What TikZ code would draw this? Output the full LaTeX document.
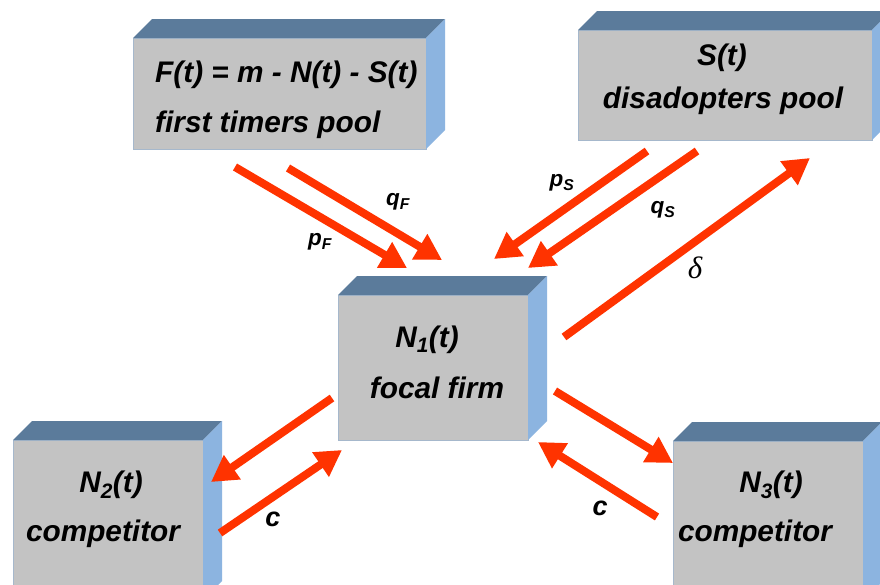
\documentclass[tikz,border=0pt]{standalone}
\usepackage{fontspec}
\setmainfont{Liberation Sans}
\newfontfamily\greekserif{Liberation Serif}
\usetikzlibrary{arrows.meta}
\definecolor{arrowred}{HTML}{FF3300}
\definecolor{boxfront}{HTML}{C3C3C3}
\definecolor{boxtop}{HTML}{5B7B9B}
\definecolor{boxside}{HTML}{8CB4E0}
\definecolor{boxedge}{HTML}{A6B8CC}
\begin{document}
\begin{tikzpicture}[x=1pt,y=-1pt,
  box/.style={draw=boxedge, line width=0.8pt, fill=boxfront, inner sep=0pt, outer sep=0pt},
  topface/.style={fill=boxtop},
  sideface/.style={fill=boxside},
  lbl/.style={font=\fontsize{29.8}{34}\selectfont\bfseries\itshape, inner sep=0pt},
  small/.style={font=\fontsize{22.5}{26}\selectfont\bfseries\itshape, inner sep=0pt},
  clbl/.style={font=\fontsize{27}{30}\selectfont\bfseries\itshape, inner sep=0pt},
  flow/.style={draw=arrowred, line width=8pt, -{Triangle[length=26pt,width=28pt]}}]
\useasboundingbox (0,0) rectangle (880,584);
\clip (0,0) rectangle (880,584);
\fill[white] (0,0) rectangle (880,584);

% boxes (front faces)
\node[box, minimum width=293pt, minimum height=111pt] (F) at (279.5,93.5) {};
\node[box, minimum width=294pt, minimum height=110pt] (S) at (725,85) {};
\node[box, minimum width=190pt, minimum height=145pt] (N1) at (433,367.5) {};
\node[box, minimum width=190pt, minimum height=160pt] (N2) at (108,520) {};
\node[box, minimum width=190pt, minimum height=160pt] (N3) at (768,521) {};

% top and side faces
\foreach \n in {F,S,N1,N2,N3}{
  \fill[topface] (\n.north west) -- ([shift={(19,-19)}]\n.north west)
     -- ([shift={(19,-19)}]\n.north east) -- (\n.north east) -- cycle;
  \fill[sideface] (\n.north east) -- ([shift={(19,-19)}]\n.north east)
     -- ([shift={(19,-19)}]\n.south east) -- (\n.south east) -- cycle;
}

% box texts
\node[lbl, anchor=base west] (Ft1) at (155,82) {F(t) = m - N(t) - S(t)};
\node[lbl, anchor=base west] (Ft2) at (155,132) {first timers pool};
\node[lbl, anchor=base] (St1) at (722,65) {S(t)};
\node[lbl, anchor=base] (St2) at (723,108) {disadopters pool};
\node[lbl, anchor=base] (N1t1) at (427,347) {N\textsubscript{1}(t)};
\node[lbl, anchor=base] (N1t2) at (437,398) {focal firm};
\node[lbl, anchor=base] (N2t1) at (111,492) {N\textsubscript{2}(t)};
\node[lbl, anchor=base] (N2t2) at (103,541) {competitor};
\node[lbl, anchor=base] (N3t1) at (771,492) {N\textsubscript{3}(t)};
\node[lbl, anchor=base] (N3t2) at (755,541) {competitor};

% arrow end points
\coordinate (pFa) at (235,167);  \coordinate (pFb) at (407,268);
\coordinate (qFa) at (288,168);  \coordinate (qFb) at (442,260);
\coordinate (pSa) at (647,151);  \coordinate (pSb) at (494,259);
\coordinate (qSa) at (697,151);  \coordinate (qSb) at (528,268);
\coordinate (da)  at (564,337);  \coordinate (db)  at (810,158);
\coordinate (n12a) at (332,398); \coordinate (n12b) at (211,482);
\coordinate (n21a) at (220,533); \coordinate (n21b) at (342,450);
\coordinate (n13a) at (555,391); \coordinate (n13b) at (673,463);
\coordinate (n31a) at (657,517); \coordinate (n31b) at (538,442);

\draw[flow] (pFa) -- (pFb);
\draw[flow] (qFa) -- (qFb);
\draw[flow] (pSa) -- (pSb);
\draw[flow] (qSa) -- (qSb);
\draw[flow] (da) -- (db);
\draw[flow] (n12a) -- (n12b);
\draw[flow] (n21a) -- (n21b);
\draw[flow] (n13a) -- (n13b);
\draw[flow] (n31a) -- (n31b);

% arrow labels
\node[small] (lpF) at (320,242) {p\textsubscript{F}};
\node[small] (lqF) at (398,202) {q\textsubscript{F}};
\node[small] (lpS) at (562,183) {p\textsubscript{S}};
\node[small] (lqS) at (663,210) {q\textsubscript{S}};
\node[inner sep=0pt, font=\fontsize{31}{34}\selectfont\greekserif\itshape] (ld) at (695,268) {δ};
\node[clbl] (lc1) at (273,519) {c};
\node[clbl] (lc2) at (600,508) {c};
\end{tikzpicture}
\end{document}
